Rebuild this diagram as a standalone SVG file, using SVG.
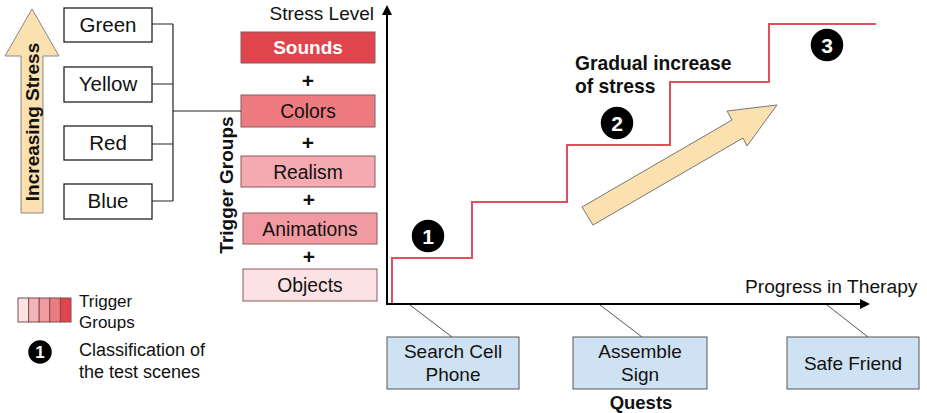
<svg xmlns="http://www.w3.org/2000/svg" width="927" height="413" viewBox="0 0 927 413">
<defs>
<style>
text{font-family:"Liberation Sans",Arial,sans-serif;fill:#111}
.b{font-weight:bold}
.lbox{fill:#fff;stroke:#222;stroke-width:1.3}
.pbox{stroke:#8a5a5a;stroke-width:1}
.qbox{fill:#cfe2f3;stroke:#555;stroke-width:1}
.conn{fill:none;stroke:#222;stroke-width:1.2}
.gline{fill:none;stroke:#555;stroke-width:1}
.axis{fill:none;stroke:#000;stroke-width:2}
.num{fill:#000;stroke:#fff;stroke-width:1.5}
.numt{fill:#fff;font-weight:bold;font-size:21px;text-anchor:middle}
.c{text-anchor:middle}
</style>
<marker id="ah" viewBox="0 0 10 10" refX="8" refY="5" markerWidth="5" markerHeight="5" orient="auto">
<path d="M0,0 L10,5 L0,10 z" fill="#000"/>
</marker>
</defs>

<g id="increasing-stress">
<polygon points="32,9 59,56 43,56 43,213 21,213 21,56 5,56" fill="#fbe0b0" stroke="#888" stroke-width="1"/>
<text class="b" font-size="19" transform="translate(39,122) rotate(-90)" text-anchor="middle">Increasing Stress</text>
</g>

<g id="green"><rect class="lbox" x="64" y="8" width="88" height="34"/><text class="c" x="108" y="32" font-size="20.5">Green</text></g>
<g id="yellow"><rect class="lbox" x="64" y="67" width="88" height="35"/><text class="c" x="108" y="91" font-size="20.5">Yellow</text></g>
<g id="red"><rect class="lbox" x="64" y="126" width="88" height="34"/><text class="c" x="108" y="150" font-size="20.5">Red</text></g>
<g id="blue"><rect class="lbox" x="64" y="184" width="88" height="35"/><text class="c" x="108" y="208" font-size="20.5">Blue</text></g>

<g id="trigger-groups-label">
<text class="b" font-size="19" transform="translate(233,185) rotate(-90)" text-anchor="middle">Trigger Groups</text>
</g>

<g id="stress-level-label"><text x="374" y="20" font-size="19" text-anchor="end">Stress Level</text></g>

<g id="sounds"><rect class="pbox" x="241" y="32" width="134" height="31" fill="#e0444c"/><text class="c b" x="308" y="54" font-size="19" style="fill:#fff">Sounds</text></g>
<text class="c b" x="308" y="88" font-size="21">+</text>
<g id="colors"><rect class="pbox" x="241" y="95" width="134" height="32" fill="#ee7b80"/><text class="c" x="308" y="118" font-size="19.3">Colors</text></g>
<text class="c b" x="308" y="150" font-size="21">+</text>
<g id="realism"><rect class="pbox" x="241" y="156" width="134" height="31" fill="#f4aab0"/><text class="c" x="308" y="179" font-size="19.3">Realism</text></g>
<text class="c b" x="309" y="207" font-size="21">+</text>
<g id="animations"><rect class="pbox" x="243" y="213" width="134" height="31" fill="#f29aa1"/><text class="c" x="310" y="236" font-size="19.3">Animations</text></g>
<text class="c b" x="309" y="264" font-size="21">+</text>
<g id="objects"><rect class="pbox" x="243" y="269" width="134" height="32" fill="#fce2e4"/><text class="c" x="310" y="292" font-size="19.3">Objects</text></g>

<g id="connectors">
<path class="conn" d="M152,24 H173 M152,84 H173 M152,144 H173 M152,201 H173 M173,24 V201 M173,111 H241"/>
<path class="gline" d="M410,305 L452,337 M600,305 L642,337 M827,305 L868,337"/>
</g>

<g id="axes">
<line class="axis" x1="387" y1="305" x2="387" y2="7" marker-end="url(#ah)"/>
<line class="axis" x1="386" y1="304" x2="868" y2="304" marker-end="url(#ah)"/>
<text x="745" y="293" font-size="19.2">Progress in Therapy</text>
</g>

<g id="stress-curve">
<path d="M392,303 V258 H472 V202 H567 V145 H670 V82 H769 V24 H876" fill="none" stroke="#e0505a" stroke-width="2"/>
</g>

<g id="gradual-arrow">
<polygon points="582,207 732,120 727,111 777,105 747,146 743,138 593,225" fill="#fbe0b0" stroke="#777" stroke-width="1"/>
<text class="b" x="575" y="70" font-size="19.3">Gradual increase</text>
<text class="b" x="575" y="93" font-size="19.3">of stress</text>
</g>

<g id="scene-1"><circle class="num" cx="428" cy="236" r="17"/><text class="numt" x="428" y="243.5">1</text></g>
<g id="scene-2"><circle class="num" cx="617" cy="123" r="17"/><text class="numt" x="617" y="130.5">2</text></g>
<g id="scene-3"><circle class="num" cx="827" cy="45" r="17"/><text class="numt" x="827" y="52.5">3</text></g>

<g id="search-cell-phone"><rect class="qbox" x="387" y="337" width="132" height="52"/><text class="c" x="453" y="358" font-size="19">Search Cell</text><text class="c" x="453" y="381" font-size="19">Phone</text></g>
<g id="assemble-sign"><rect class="qbox" x="573" y="337" width="134" height="52"/><text class="c" x="640" y="358" font-size="19">Assemble</text><text class="c" x="640" y="381" font-size="19">Sign</text></g>
<g id="safe-friend"><rect class="qbox" x="787" y="337" width="132" height="52"/><text class="c" x="853" y="370" font-size="19">Safe Friend</text></g>
<g id="quests-label"><text class="c b" x="641" y="409" font-size="18.5">Quests</text></g>

<g id="legend">
<rect x="18" y="298" width="10.6" height="24" fill="#fce2e4" stroke="#7a5050" stroke-width="1"/>
<rect x="28.6" y="298" width="10.6" height="24" fill="#f5b3b8" stroke="#7a5050" stroke-width="1"/>
<rect x="39.2" y="298" width="10.6" height="24" fill="#f29aa1" stroke="#7a5050" stroke-width="1"/>
<rect x="49.8" y="298" width="10.6" height="24" fill="#ee7b80" stroke="#7a5050" stroke-width="1"/>
<rect x="60.4" y="298" width="10.6" height="24" fill="#e0444c" stroke="#7a5050" stroke-width="1"/>
<text x="79" y="307" font-size="17">Trigger</text>
<text x="79" y="328" font-size="17">Groups</text>
<circle class="num" cx="40" cy="352" r="12.5"/><text x="40" y="358" font-size="17" style="fill:#fff;font-weight:bold" text-anchor="middle">1</text>
<text x="79" y="356" font-size="18">Classification of</text>
<text x="79" y="378" font-size="18">the test scenes</text>
</g>
</svg>
